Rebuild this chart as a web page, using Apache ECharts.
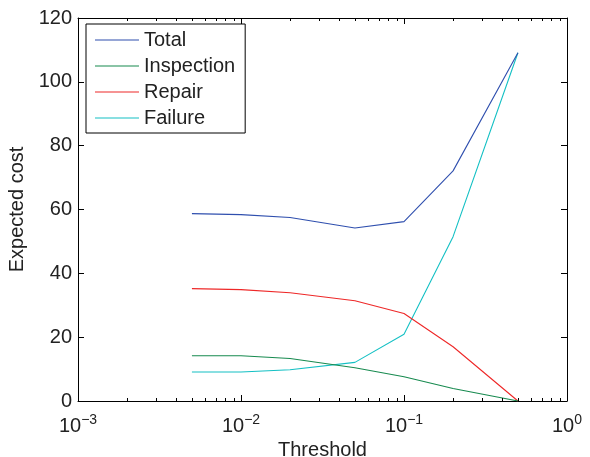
<!DOCTYPE html>
<html><head><meta charset="utf-8">
<script src="https://cdn.jsdelivr.net/npm/echarts@6/dist/echarts.min.js"></script>
<style>html,body{margin:0;padding:0;background:#fff}#c{width:590px;height:457px}</style>
</head><body><div id="c"></div>
<script>
const thresholds = [0.005, 0.01, 0.02, 0.05, 0.1, 0.2, 0.5];
const total      = [58.7, 58.4, 57.5, 54.2, 56.2, 72.1, 109.1];
const inspection = [14.2, 14.2, 13.3, 10.4, 7.6, 3.9, 0];
const repair     = [35.2, 34.9, 33.9, 31.4, 27.4, 17.0, 0];
const failure    = [9.1, 9.1, 9.8, 12.1, 20.9, 51.5, 109.1];
const seriesNames = ['Total', 'Inspection', 'Repair', 'Failure'];
const seriesColors = ['#2f4fae', '#178a4f', '#ee2828', '#14c0c4'];
const yTicks = [0, 20, 40, 60, 80, 100, 120];

const minorVals = [];
for (let d = -3; d < 0; d++) for (let k = 2; k <= 9; k++) minorVals.push(k * Math.pow(10, d));

const font = 'Liberation Sans, Arial, Helvetica, sans-serif';
const txt = '#222';
const allData = [total, inspection, repair, failure];
const series = seriesNames.map((n, i) => ({
  name: n, type: 'line', xAxisIndex: 0, yAxisIndex: 0,
  data: thresholds.map((t, j) => [t, allData[i][j]]),
  symbol: 'none', lineStyle: {width: 1.1, color: seriesColors[i]}, itemStyle: {color: seriesColors[i]},
  z: 5 - i, animation: false
}));

const tickStyle = {show: true, inside: true, length: 6, lineStyle: {color: '#000', width: 1}};
const lineStyle = {show: true, onZero: false, lineStyle: {color: '#000', width: 1}};

const chart = echarts.init(document.getElementById('c'), null, {renderer: 'canvas'});
chart.setOption({
  animation: false,
  backgroundColor: '#fff',
  grid: {left: 78, right: 23, top: 18, bottom: 56, containLabel: false, outerBoundsMode: 'none'},
  legend: {
    data: seriesNames, orient: 'vertical', left: 86, top: 24,
    itemWidth: 44, itemHeight: 10, itemGap: 6,
    padding: [6, 10, 5, 9],
    borderColor: '#000', borderWidth: 1, backgroundColor: '#fff',
    textStyle: {fontFamily: font, fontSize: 20, color: txt},
    icon: 'path://M0,5 L44,5 L44,6 L0,6 Z'
  },
  xAxis: [
    {type: 'log', logBase: 10, min: 0.001, max: 1, position: 'bottom',
     name: 'Threshold', nameLocation: 'middle', nameGap: 36,
     nameTextStyle: {fontFamily: font, fontSize: 20, color: txt},
     axisLine: lineStyle, axisTick: tickStyle,
     splitLine: {show: false}, minorTick: {show: false},
     axisLabel: {margin: 12, formatter: v => '{b|10}{s|' + String(Math.round(Math.log10(v))).replace('-', '\u2212') + '}',
       rich: {b: {fontFamily: font, fontSize: 20, color: txt},
              s: {fontFamily: font, fontSize: 14, color: txt, verticalAlign: 'bottom', padding: [0,0,12,0]}}}},
    {type: 'log', logBase: 10, min: 0.001, max: 1, position: 'top',
     axisLine: lineStyle, axisTick: tickStyle, axisLabel: {show: false},
     splitLine: {show: false}, minorTick: {show: false}}
  ],
  yAxis: [
    {type: 'value', min: 0, max: 120, interval: 20, position: 'left',
     name: 'Expected cost', nameLocation: 'middle', nameGap: 50, nameRotate: 90,
     nameTextStyle: {fontFamily: font, fontSize: 20, color: txt},
     axisLine: lineStyle, axisTick: tickStyle,
     axisLabel: {margin: 6, fontFamily: font, fontSize: 20, color: txt,
       formatter: v => yTicks.includes(v) ? String(v) : ''},
     splitLine: {show: false}},
    {type: 'value', min: 0, max: 120, interval: 20, position: 'right',
     axisLine: lineStyle, axisTick: tickStyle,
     axisLabel: {show: false}, splitLine: {show: false}}
  ],
  series: series
});

// minor log ticks (bottom and top), positioned through the axis scale
const yBottom = chart.convertToPixel({yAxisIndex: 0}, 0);
const yTop = chart.convertToPixel({yAxisIndex: 0}, 120);
const g = [];
minorVals.forEach(v => {
  const x = Math.round(chart.convertToPixel({xAxisIndex: 0}, v)) + 0.5;
  g.push({type: 'line', shape: {x1: x, y1: yBottom, x2: x, y2: yBottom - 3}, style: {stroke: '#000', lineWidth: 1}, silent: true, z: 10});
  g.push({type: 'line', shape: {x1: x, y1: yTop, x2: x, y2: yTop + 3}, style: {stroke: '#000', lineWidth: 1}, silent: true, z: 10});
});
chart.setOption({graphic: g});
</script></body></html>
